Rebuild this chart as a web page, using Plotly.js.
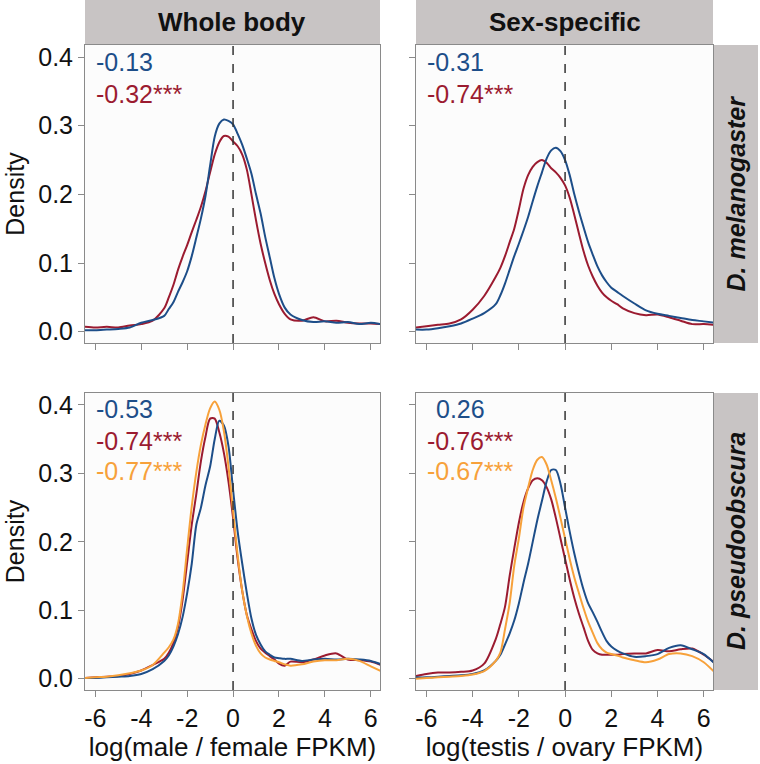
<!DOCTYPE html>
<html>
<head>
<meta charset="utf-8">
<script src="https://cdn.plot.ly/plotly-3.0.1.min.js"></script>
<style>html,body{margin:0;padding:0;background:#fff;}#chart{width:760px;height:764px;}</style>
</head>
<body>
<div id="chart"></div>
<script>
// shared x grid (log ratio)
const xGrid = [-6.45,-6,-5.5,-5,-4.5,-4,-3.5,-3,-2.8,-2.6,-2.4,-2.2,-2,-1.8,-1.6,-1.4,-1.2,-1,-0.8,-0.6,-0.4,-0.2,0,0.2,0.4,0.6,0.8,1,1.2,1.4,1.6,1.8,2,2.25,2.5,3,3.5,4,4.5,5,5.5,6,6.45];

// D. melanogaster, whole body
const melWholeBlue = [0.002,0.002,0.003,0.004,0.006,0.013,0.017,0.023,0.033,0.043,0.058,0.072,0.088,0.11,0.137,0.165,0.198,0.242,0.284,0.303,0.309,0.307,0.302,0.288,0.272,0.252,0.23,0.2,0.172,0.138,0.108,0.078,0.055,0.035,0.025,0.017,0.014,0.015,0.013,0.014,0.011,0.013,0.011];
const melWholeRed  = [0.007,0.006,0.007,0.006,0.009,0.011,0.016,0.034,0.05,0.068,0.09,0.109,0.126,0.145,0.163,0.182,0.205,0.232,0.258,0.276,0.285,0.284,0.277,0.27,0.258,0.236,0.2,0.162,0.128,0.1,0.075,0.055,0.04,0.026,0.018,0.016,0.021,0.015,0.016,0.013,0.012,0.012,0.011];

// D. melanogaster, sex-specific
const melSexBlue = [0.003,0.003,0.005,0.008,0.012,0.019,0.027,0.04,0.053,0.07,0.09,0.11,0.128,0.147,0.167,0.19,0.212,0.232,0.252,0.264,0.268,0.263,0.25,0.228,0.2,0.175,0.152,0.13,0.112,0.095,0.082,0.072,0.064,0.058,0.052,0.041,0.031,0.026,0.023,0.02,0.017,0.015,0.013];
const melSexRed  = [0.006,0.008,0.01,0.012,0.018,0.032,0.052,0.08,0.093,0.11,0.13,0.15,0.178,0.208,0.228,0.24,0.247,0.25,0.246,0.238,0.232,0.224,0.213,0.195,0.17,0.143,0.117,0.096,0.08,0.067,0.057,0.05,0.045,0.04,0.034,0.027,0.024,0.025,0.021,0.016,0.011,0.011,0.01];

// D. pseudoobscura, whole body
const pseWholeBlue   = [0.001,0.001,0.002,0.003,0.004,0.007,0.014,0.026,0.034,0.047,0.065,0.09,0.125,0.168,0.225,0.25,0.283,0.31,0.35,0.377,0.37,0.34,0.276,0.215,0.168,0.125,0.088,0.064,0.05,0.04,0.035,0.031,0.03,0.029,0.029,0.026,0.028,0.029,0.028,0.029,0.028,0.026,0.021];
const pseWholeRed    = [0.001,0.002,0.003,0.004,0.007,0.012,0.02,0.029,0.038,0.052,0.075,0.115,0.17,0.225,0.27,0.318,0.354,0.38,0.38,0.36,0.33,0.288,0.235,0.175,0.128,0.093,0.072,0.055,0.044,0.038,0.033,0.028,0.022,0.019,0.025,0.024,0.028,0.034,0.037,0.028,0.027,0.025,0.02];
const pseWholeOrange = [0.001,0.002,0.003,0.005,0.008,0.012,0.02,0.038,0.046,0.057,0.08,0.125,0.19,0.252,0.302,0.342,0.372,0.395,0.405,0.393,0.362,0.31,0.245,0.18,0.128,0.092,0.066,0.048,0.037,0.031,0.028,0.026,0.024,0.021,0.019,0.021,0.025,0.027,0.027,0.029,0.026,0.018,0.011];

// D. pseudoobscura, sex-specific
const pseSexBlue   = [0.002,0.002,0.003,0.004,0.005,0.007,0.012,0.026,0.035,0.05,0.066,0.085,0.11,0.14,0.168,0.2,0.232,0.26,0.288,0.305,0.305,0.285,0.25,0.215,0.183,0.155,0.13,0.11,0.097,0.083,0.068,0.055,0.047,0.041,0.037,0.032,0.033,0.036,0.045,0.049,0.043,0.036,0.023];
const pseSexRed    = [0.004,0.007,0.009,0.009,0.01,0.012,0.022,0.058,0.08,0.105,0.15,0.19,0.228,0.258,0.278,0.29,0.293,0.29,0.28,0.262,0.235,0.205,0.175,0.145,0.118,0.095,0.075,0.055,0.042,0.037,0.035,0.035,0.035,0.035,0.036,0.037,0.037,0.042,0.04,0.043,0.044,0.035,0.024];
const pseSexOrange = [0.0,0.001,0.002,0.003,0.004,0.006,0.011,0.026,0.038,0.072,0.11,0.165,0.205,0.25,0.279,0.305,0.32,0.324,0.313,0.29,0.264,0.235,0.205,0.175,0.148,0.125,0.103,0.083,0.067,0.052,0.043,0.038,0.036,0.034,0.031,0.027,0.024,0.028,0.036,0.037,0.033,0.024,0.01];

const colBlue = '#1D4E89', colRed = '#9B1B30', colOrange = '#F7A13A';

const colLabels = ['Whole body', 'Sex-specific'];
const rowLabels = ['D. melanogaster', 'D. pseudoobscura'];
const xTitles = ['log(male / female FPKM)', 'log(testis / ovary FPKM)'];
const yTitle = 'Density';
const corrText = {
  A: [['-0.13', colBlue], ['-0.32***', colRed]],
  B: [['-0.31', colBlue], ['-0.74***', colRed]],
  C: [['-0.53', colBlue], ['-0.74***', colRed], ['-0.77***', colOrange]],
  D: [['0.26', colBlue], ['-0.76***', colRed], ['-0.67***', colOrange]]
};
const xTicks = [-6,-4,-2,0,2,4,6];
const yTicks = [0,0.1,0.2,0.3,0.4];

const FONT = 'Liberation Sans, Arial, Helvetica, sans-serif';
function line(y, color, xa, ya) {
  return {x: xGrid, y: y, type: 'scatter', mode: 'lines', xaxis: xa, yaxis: ya,
    line: {color: color, width: 2, shape: 'spline', smoothing: 0.8}, hoverinfo: 'skip', showlegend: false};
}
const traces = [
  line(melWholeRed, colRed, 'x', 'y'), line(melWholeBlue, colBlue, 'x', 'y'),
  line(melSexRed, colRed, 'x2', 'y2'), line(melSexBlue, colBlue, 'x2', 'y2'),
  line(pseWholeRed, colRed, 'x3', 'y3'), line(pseWholeBlue, colBlue, 'x3', 'y3'), line(pseWholeOrange, colOrange, 'x3', 'y3'),
  line(pseSexRed, colRed, 'x4', 'y4'), line(pseSexBlue, colBlue, 'x4', 'y4'), line(pseSexOrange, colOrange, 'x4', 'y4')
];

const W = 760, H = 764;
const px = v => v / W, py = v => 1 - v / H;
const colDom = [[px(85), px(380)], [px(416), px(713)]];
const rowDom = [[py(343), py(45)], [py(690), py(393)]];
const TS = 25;

function xax(col, row, anchor) {
  return {domain: colDom[col], range: [-6.45, 6.4], anchor: anchor, tickvals: xTicks,
    ticktext: xTicks.map(String), showticklabels: row === 1, ticks: 'outside', ticklen: 6, tickcolor: '#8a8a8a',
    showline: true, mirror: true, linecolor: '#8a8a8a', linewidth: 1, showgrid: false, zeroline: false,
    tickfont: {family: FONT, size: TS, color: '#111'},
    title: row === 1 ? {text: xTitles[col], font: {family: FONT, size: 26, color: '#111'}, standoff: 3} : {text: ''}};
}
function yax(col, row, anchor) {
  return {domain: rowDom[row], range: [-0.0165, 0.4175], anchor: anchor, tickvals: yTicks,
    ticktext: yTicks.map(v => v.toFixed(1)), showticklabels: col === 0, ticks: 'outside', ticklen: 6, tickcolor: '#8a8a8a',
    showline: true, mirror: true, linecolor: '#8a8a8a', linewidth: 1, showgrid: false, zeroline: false,
    tickfont: {family: FONT, size: TS, color: '#111'},
    title: col === 0 ? {text: yTitle, font: {family: FONT, size: TS, color: '#111'}, standoff: 6} : {text: ''}};
}

const shapes = [];
const annotations = [];
const stripColor = '#C8C4C4';
colDom.forEach((d, i) => {
  shapes.push({type: 'rect', xref: 'paper', yref: 'paper', x0: d[0], x1: d[1], y0: rowDom[0][1], y1: 1, fillcolor: stripColor, line: {width: 0}, layer: 'below'});
  annotations.push({xref: 'paper', yref: 'paper', x: (d[0] + d[1]) / 2, y: py(22), text: '<b>' + colLabels[i] + '</b>', showarrow: false,
    font: {family: FONT, size: 26, color: '#111'}, xanchor: 'center', yanchor: 'middle'});
});
rowDom.forEach((d, i) => {
  shapes.push({type: 'rect', xref: 'paper', yref: 'paper', x0: colDom[1][1], x1: px(758), y0: d[0], y1: d[1], fillcolor: stripColor, line: {width: 0}, layer: 'below'});
  annotations.push({xref: 'paper', yref: 'paper', x: px(735.5), y: (d[0] + d[1]) / 2, text: '<b><i>' + rowLabels[i] + '</i></b>', showarrow: false, textangle: -90,
    font: {family: FONT, size: 25, color: '#111'}, xanchor: 'center', yanchor: 'middle'});
});
['x', 'x2', 'x3', 'x4'].forEach((xa, i) => {
  const ya = ['y', 'y2', 'y3', 'y4'][i];
  shapes.push({type: 'line', xref: xa, yref: ya + ' domain', x0: 0, x1: 0, y0: 0, y1: 1, line: {color: '#333', width: 1.5, dash: 'dash'}});
});

const corrPos = {
  A: {x: [94, 94], y: [62, 94]},
  B: {x: [425, 425], y: [62, 94]},
  C: {x: [94, 94, 94], y: [409, 441, 471]},
  D: {x: [434, 425, 425], y: [409, 441, 471]}
};
Object.keys(corrText).forEach(k => {
  corrText[k].forEach((t, j) => {
    annotations.push({xref: 'paper', yref: 'paper', x: px(corrPos[k].x[j]), y: py(corrPos[k].y[j]), text: t[0], showarrow: false,
      font: {family: FONT, size: 25, color: t[1]}, xanchor: 'left', yanchor: 'middle'});
  });
});

const layout = {
  width: W, height: H, margin: {l: 0, r: 0, t: 0, b: 0},
  paper_bgcolor: '#ffffff', plot_bgcolor: '#fcfcfc', showlegend: false,
  xaxis: xax(0, 0, 'y'), yaxis: yax(0, 0, 'x'),
  xaxis2: xax(1, 0, 'y2'), yaxis2: yax(1, 0, 'x2'),
  xaxis3: xax(0, 1, 'y3'), yaxis3: yax(0, 1, 'x3'),
  xaxis4: xax(1, 1, 'y4'), yaxis4: yax(1, 1, 'x4'),
  shapes: shapes, annotations: annotations
};
Plotly.newPlot('chart', traces, layout, {staticPlot: true, displayModeBar: false});
</script>
</body>
</html>
